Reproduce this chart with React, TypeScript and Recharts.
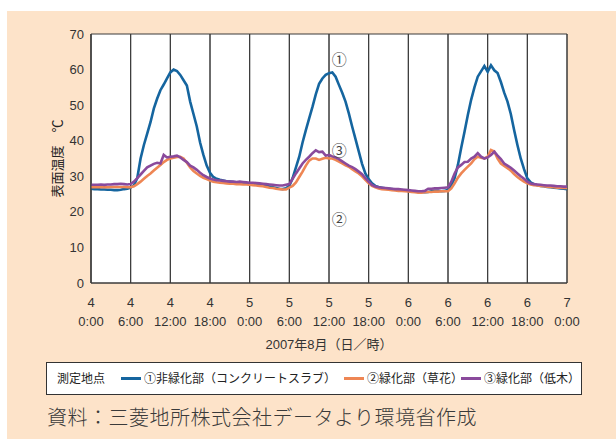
import React from 'react';
import { LineChart, Line, XAxis, YAxis, CartesianGrid, Legend, ReferenceDot } from 'recharts';

// Half-hour time steps (hours since 4 Aug 0:00)
const timeSteps: number[] = Array.from({ length: 145 }, (_, i) => i * 0.5);

// ① 非緑化部（コンクリートスラブ）
const concreteTemps: number[] = [
  26.5, 26.4, 26.4, 26.3, 26.3, 26.2, 26.2, 26.1, 26.1, 26.2, 26.4, 26.5,
  26.8, 27.5, 29.5, 35.0, 38.8, 42.0, 45.2, 49.0, 51.8, 54.2, 55.8, 57.5,
  59.2, 60.0, 59.6, 58.5, 57.0, 55.5, 51.0, 47.5, 44.0, 39.5, 36.0, 33.0,
  31.0, 29.8, 29.3, 29.0, 28.8, 28.6, 28.5, 28.4, 28.3, 28.2, 28.1, 28.0,
  27.8, 27.7, 27.6, 27.5, 27.4, 27.3, 27.1, 26.9, 26.7, 26.5, 26.4, 26.6,
  27.3, 29.5, 32.5, 35.5, 39.5, 43.0, 46.3, 49.5, 53.0, 56.0, 57.5, 58.5,
  59.0, 59.2, 58.0, 55.7, 53.5, 51.0, 47.7, 44.0, 40.5, 37.0, 33.5, 30.8,
  29.2, 28.0, 27.3, 27.0, 26.8, 26.6, 26.5, 26.4, 26.3, 26.2, 26.1, 26.0,
  25.9, 25.8, 25.7, 25.6, 25.6, 25.5, 25.6, 25.8, 25.9, 25.9, 25.8, 25.9,
  26.2, 27.5, 29.5, 33.2, 38.0, 42.5, 47.2, 51.5, 55.0, 58.0, 59.5, 61.0,
  59.4, 61.2, 59.8, 59.0, 56.5, 53.5, 51.0, 47.5, 43.0, 38.8, 35.0, 32.0,
  29.4, 28.3, 27.8, 27.5, 27.3, 27.2, 27.0, 26.9, 26.8, 26.7, 26.6, 26.5,
  26.4,
];

// ② 緑化部（草花）
const grassTemps: number[] = [
  26.9, 26.9, 26.9, 26.9, 26.9, 26.9, 27.0, 27.0, 27.0, 27.0, 27.0, 26.9,
  26.9, 27.2, 27.8, 28.5, 29.3, 30.1, 30.8, 31.6, 32.4, 33.2, 34.0, 34.6,
  35.0, 35.2, 35.4, 35.5, 35.0, 33.8, 32.5, 31.5, 30.8, 30.1, 29.6, 29.2,
  28.8, 28.5, 28.3, 28.2, 28.1, 28.0, 27.9, 27.9, 27.8, 27.8, 27.7, 27.7,
  27.6, 27.5, 27.4, 27.3, 27.2, 27.0, 26.8, 26.7, 26.5, 26.4, 26.3, 26.3,
  26.8, 27.3, 28.3, 29.8, 31.3, 33.0, 34.4, 35.0, 35.0, 34.6, 34.9, 35.2,
  35.0, 35.0, 34.6, 34.1, 33.6, 33.1, 32.7, 32.0, 31.4, 30.8, 30.0, 29.0,
  28.0, 27.3, 26.9, 26.6, 26.4, 26.3, 26.2, 26.1, 26.0, 25.9, 25.9, 25.8,
  25.7, 25.6, 25.5, 25.4, 25.4, 25.5, 25.6, 25.6, 25.7, 25.7, 25.8, 25.8,
  25.8, 26.6, 28.0, 29.6, 30.8, 31.8, 32.7, 33.6, 34.8, 35.5, 35.2, 35.0,
  35.5, 37.4, 37.0, 35.0, 33.6, 32.9, 32.3, 31.6, 30.6, 29.8, 29.1, 28.5,
  28.0, 27.7, 27.5, 27.4, 27.3, 27.2, 27.1, 27.0, 26.9, 26.8, 26.8, 26.7,
  26.7,
];

// ③ 緑化部（低木）
const shrubTemps: number[] = [
  27.6, 27.6, 27.6, 27.7, 27.6, 27.7, 27.7, 27.8, 27.8, 27.9, 27.8, 27.7,
  27.8, 28.5, 29.5, 30.5, 31.5, 32.5, 33.0, 33.5, 33.8, 33.6, 36.0, 35.3,
  35.5, 35.6, 35.8, 35.3, 34.6, 34.0, 33.0, 32.5, 31.8, 31.0, 30.3, 29.8,
  29.4, 29.1, 28.9, 28.8, 28.7, 28.6, 28.5, 28.5, 28.4, 28.5, 28.4, 28.3,
  28.2, 28.2, 28.1, 28.0, 27.9, 27.8, 27.7, 27.6, 27.5, 27.4, 27.4, 27.6,
  27.8, 29.3, 30.8, 32.2, 33.6, 34.6, 35.5, 36.5, 37.3, 36.8, 36.9, 35.8,
  36.0, 35.6, 35.3, 34.8, 34.2, 33.6, 33.0, 32.6, 32.0, 31.3, 30.6, 29.5,
  28.5, 27.6, 27.1, 26.9, 26.8, 26.7, 26.6, 26.5, 26.4, 26.4, 26.3, 26.2,
  26.1, 26.0, 25.9, 25.8, 25.8, 25.9, 26.5, 26.5, 26.6, 26.6, 26.7, 26.8,
  26.9, 28.5, 30.8, 32.5, 33.2, 34.0, 34.1, 35.0, 35.5, 36.5, 35.5, 35.0,
  35.3, 36.0, 36.9, 35.8, 34.8, 33.6, 33.0, 32.4, 31.6, 30.8, 30.0, 29.3,
  28.5, 28.0, 27.8, 27.7, 27.6, 27.5, 27.4, 27.4, 27.3, 27.2, 27.2, 27.1,
  27.1,
];

const xTicks: number[] = [0, 6, 12, 18, 24, 30, 36, 42, 48, 54, 60, 66, 72];
const dayLabels: string[] = ['4', '4', '4', '4', '5', '5', '5', '5', '6', '6', '6', '6', '7'];
const timeLabels: string[] = ['0:00', '6:00', '12:00', '18:00', '0:00', '6:00', '12:00', '18:00', '0:00', '6:00', '12:00', '18:00', '0:00'];
const yTicks: number[] = [0, 10, 20, 30, 40, 50, 60, 70];

const seriesNames: string[] = ['①非緑化部（コンクリートスラブ）', '②緑化部（草花）', '③緑化部（低木）'];
const seriesColors: string[] = ['#15659f', '#ee8654', '#8a4a9c'];

const annotationLabels: string[] = ['①', '③', '②'];
const annotationHours: number[] = [37.55, 37.55, 37.55];
const annotationValues: number[] = [63.0, 37.5, 18.2];

const data = timeSteps.map((h, i) => ({
  h,
  concrete: concreteTemps[i],
  grass: grassTemps[i],
  shrub: shrubTemps[i],
}));

const LATIN = '"Liberation Sans", Arial, sans-serif';
const CJK = '"Liberation Sans", "Noto Sans CJK JP", sans-serif';
const CJK_FIRST = '"Noto Sans CJK JP", sans-serif';
const GRID = '#3a3a3a';

// layout of the plot area (from chart size, margins and axis sizes)
const CHART_W = 616;
const CHART_H = 439;
const MARGIN = { top: 34, right: 49, bottom: 86, left: 51 };
const Y_AXIS_W = 40;
const X_AXIS_H = 70;
const PLOT_LEFT = MARGIN.left + Y_AXIS_W;
const PLOT_RIGHT = CHART_W - MARGIN.right;
const PLOT_TOP = MARGIN.top;
const PLOT_BOTTOM = CHART_H - MARGIN.bottom - X_AXIS_H;

const XTick = (props: any) => {
  const { x, y, payload } = props;
  const idx = xTicks.indexOf(payload.value);
  return (
    <g>
      <text x={x} y={y + 24} textAnchor="middle" fontSize={13} fill="#333" fontFamily={LATIN}>
        {dayLabels[idx]}
      </text>
      <text x={x} y={y + 43} textAnchor="middle" fontSize={13} fill="#333" fontFamily={LATIN}>
        {timeLabels[idx]}
      </text>
    </g>
  );
};

// grid drawn from the axis tick positions
const VGridTick = (props: any) => (
  <line x1={props.x} x2={props.x} y1={PLOT_TOP} y2={PLOT_BOTTOM} stroke={GRID} strokeWidth={1} />
);
const HGridTick = (props: any) => (
  <line x1={PLOT_LEFT} x2={PLOT_RIGHT} y1={props.y} y2={props.y} stroke={GRID} strokeWidth={1} />
);

const LegendBox = () => {
  const lefts = [74, 297, 414];
  return (
    <div
      style={{
        position: 'relative',
        width: 536,
        height: 33,
        boxSizing: 'border-box',
        border: '1px solid #333',
        background: '#fff',
        fontFamily: CJK_FIRST,
        fontSize: 12,
        color: '#222',
      }}
    >
      <span style={{ position: 'absolute', left: 10, top: 7, lineHeight: '16px', whiteSpace: 'nowrap' }}>測定地点</span>
      {seriesNames.map((name, i) => (
        <div key={name} style={{ position: 'absolute', left: lefts[i], top: 7, height: 16, display: 'flex', alignItems: 'center', whiteSpace: 'nowrap' }}>
          <span style={{ display: 'inline-block', width: 20, height: 3, background: seriesColors[i], marginRight: 3 }} />
          <span style={{ lineHeight: '16px' }}>{name}</span>
        </div>
      ))}
    </div>
  );
};

export default function App() {
  return (
    <div style={{ position: 'absolute', left: 0, top: 0, width: 616, height: 439, background: '#fff' }}>
      <div style={{ position: 'absolute', left: 7, top: 11, width: 609, height: 428, background: '#fde3c9' }} />
      <div style={{ position: 'absolute', left: PLOT_LEFT, top: PLOT_TOP, width: PLOT_RIGHT - PLOT_LEFT, height: PLOT_BOTTOM - PLOT_TOP, background: '#fff' }} />
      {/* grid layer: same geometry as the main chart */}
      <div style={{ position: 'absolute', left: 0, top: 0 }}>
        <LineChart width={CHART_W} height={CHART_H} data={data} margin={MARGIN}>
          <CartesianGrid stroke={GRID} strokeWidth={1} />
          <XAxis dataKey="h" type="number" domain={[0, 72]} ticks={xTicks} interval={0} height={X_AXIS_H} tick={<VGridTick />} axisLine={false} tickLine={false} tickSize={0} tickMargin={0} />
          <YAxis type="number" domain={[0, 70]} ticks={yTicks} interval={0} width={Y_AXIS_W} tick={<HGridTick />} axisLine={false} tickLine={false} tickSize={0} tickMargin={0} />
        </LineChart>
      </div>
      <div style={{ position: 'absolute', left: 0, top: 0 }}>
        <LineChart width={CHART_W} height={CHART_H} data={data} margin={MARGIN}>
          <XAxis
            dataKey="h"
            type="number"
            domain={[0, 72]}
            ticks={xTicks}
            interval={0}
            tick={<XTick />}
            tickLine={false}
            tickSize={0}
            tickMargin={0}
            axisLine={{ stroke: GRID }}
            height={X_AXIS_H}
            label={{
              content: (p: any) => {
                const vb = p.viewBox || {};
                return (
                  <text x={vb.x + vb.width / 2} y={vb.y + 66} textAnchor="middle" fontSize={13} fill="#333" fontFamily={CJK}>
                    2007年8月（日／時）
                  </text>
                );
              },
            }}
          />
          <YAxis
            type="number"
            domain={[0, 70]}
            ticks={yTicks}
            interval={0}
            width={Y_AXIS_W}
            tickLine={false}
            tickSize={0}
            tickMargin={7}
            axisLine={{ stroke: GRID }}
            tick={{ fontSize: 13, fill: '#333', fontFamily: LATIN }}
            label={{
              content: (p: any) => {
                const vb = p.viewBox || {};
                const cx = vb.x + 6;
                const cy = vb.y + vb.height / 2;
                return (
                  <text
                    x={cx}
                    y={cy}
                    transform={`rotate(-90 ${cx} ${cy})`}
                    textAnchor="middle"
                    dominantBaseline="central"
                    fontSize={13}
                    fill="#222"
                    fontFamily={CJK}
                  >
                    表面温度　℃
                  </text>
                );
              },
            }}
          />
          <Legend
            layout="horizontal"
            verticalAlign="middle"
            align="center"
            wrapperStyle={{ left: 46, top: 362, width: 536, height: 33 }}
            content={<LegendBox />}
          />
          <Line type="linear" dataKey="concrete" name={seriesNames[0]} stroke={seriesColors[0]} strokeWidth={2.6} dot={false} isAnimationActive={false} />
          <Line type="linear" dataKey="grass" name={seriesNames[1]} stroke={seriesColors[1]} strokeWidth={2.6} dot={false} isAnimationActive={false} />
          <Line type="linear" dataKey="shrub" name={seriesNames[2]} stroke={seriesColors[2]} strokeWidth={2.6} dot={false} isAnimationActive={false} />
          {annotationLabels.map((lab, i) => (
            <ReferenceDot
              key={lab}
              x={annotationHours[i]}
              y={annotationValues[i]}
              r={0}
              ifOverflow="visible"
              shape={(p: any) => (
                <text x={p.cx} y={p.cy} textAnchor="middle" dominantBaseline="central" fontSize={15} fill="#444" fontFamily={CJK_FIRST}>
                  {lab}
                </text>
              )}
            />
          ))}
        </LineChart>
      </div>
      <div
        style={{
          position: 'absolute',
          left: 47,
          top: 407,
          fontSize: 20,
          lineHeight: '20px',
          letterSpacing: 0.5,
          color: '#3a3a3a',
          whiteSpace: 'nowrap',
          fontFamily: CJK_FIRST,
          fontWeight: 300,
        }}
      >
        資料：三菱地所株式会社データより環境省作成
      </div>
    </div>
  );
}
